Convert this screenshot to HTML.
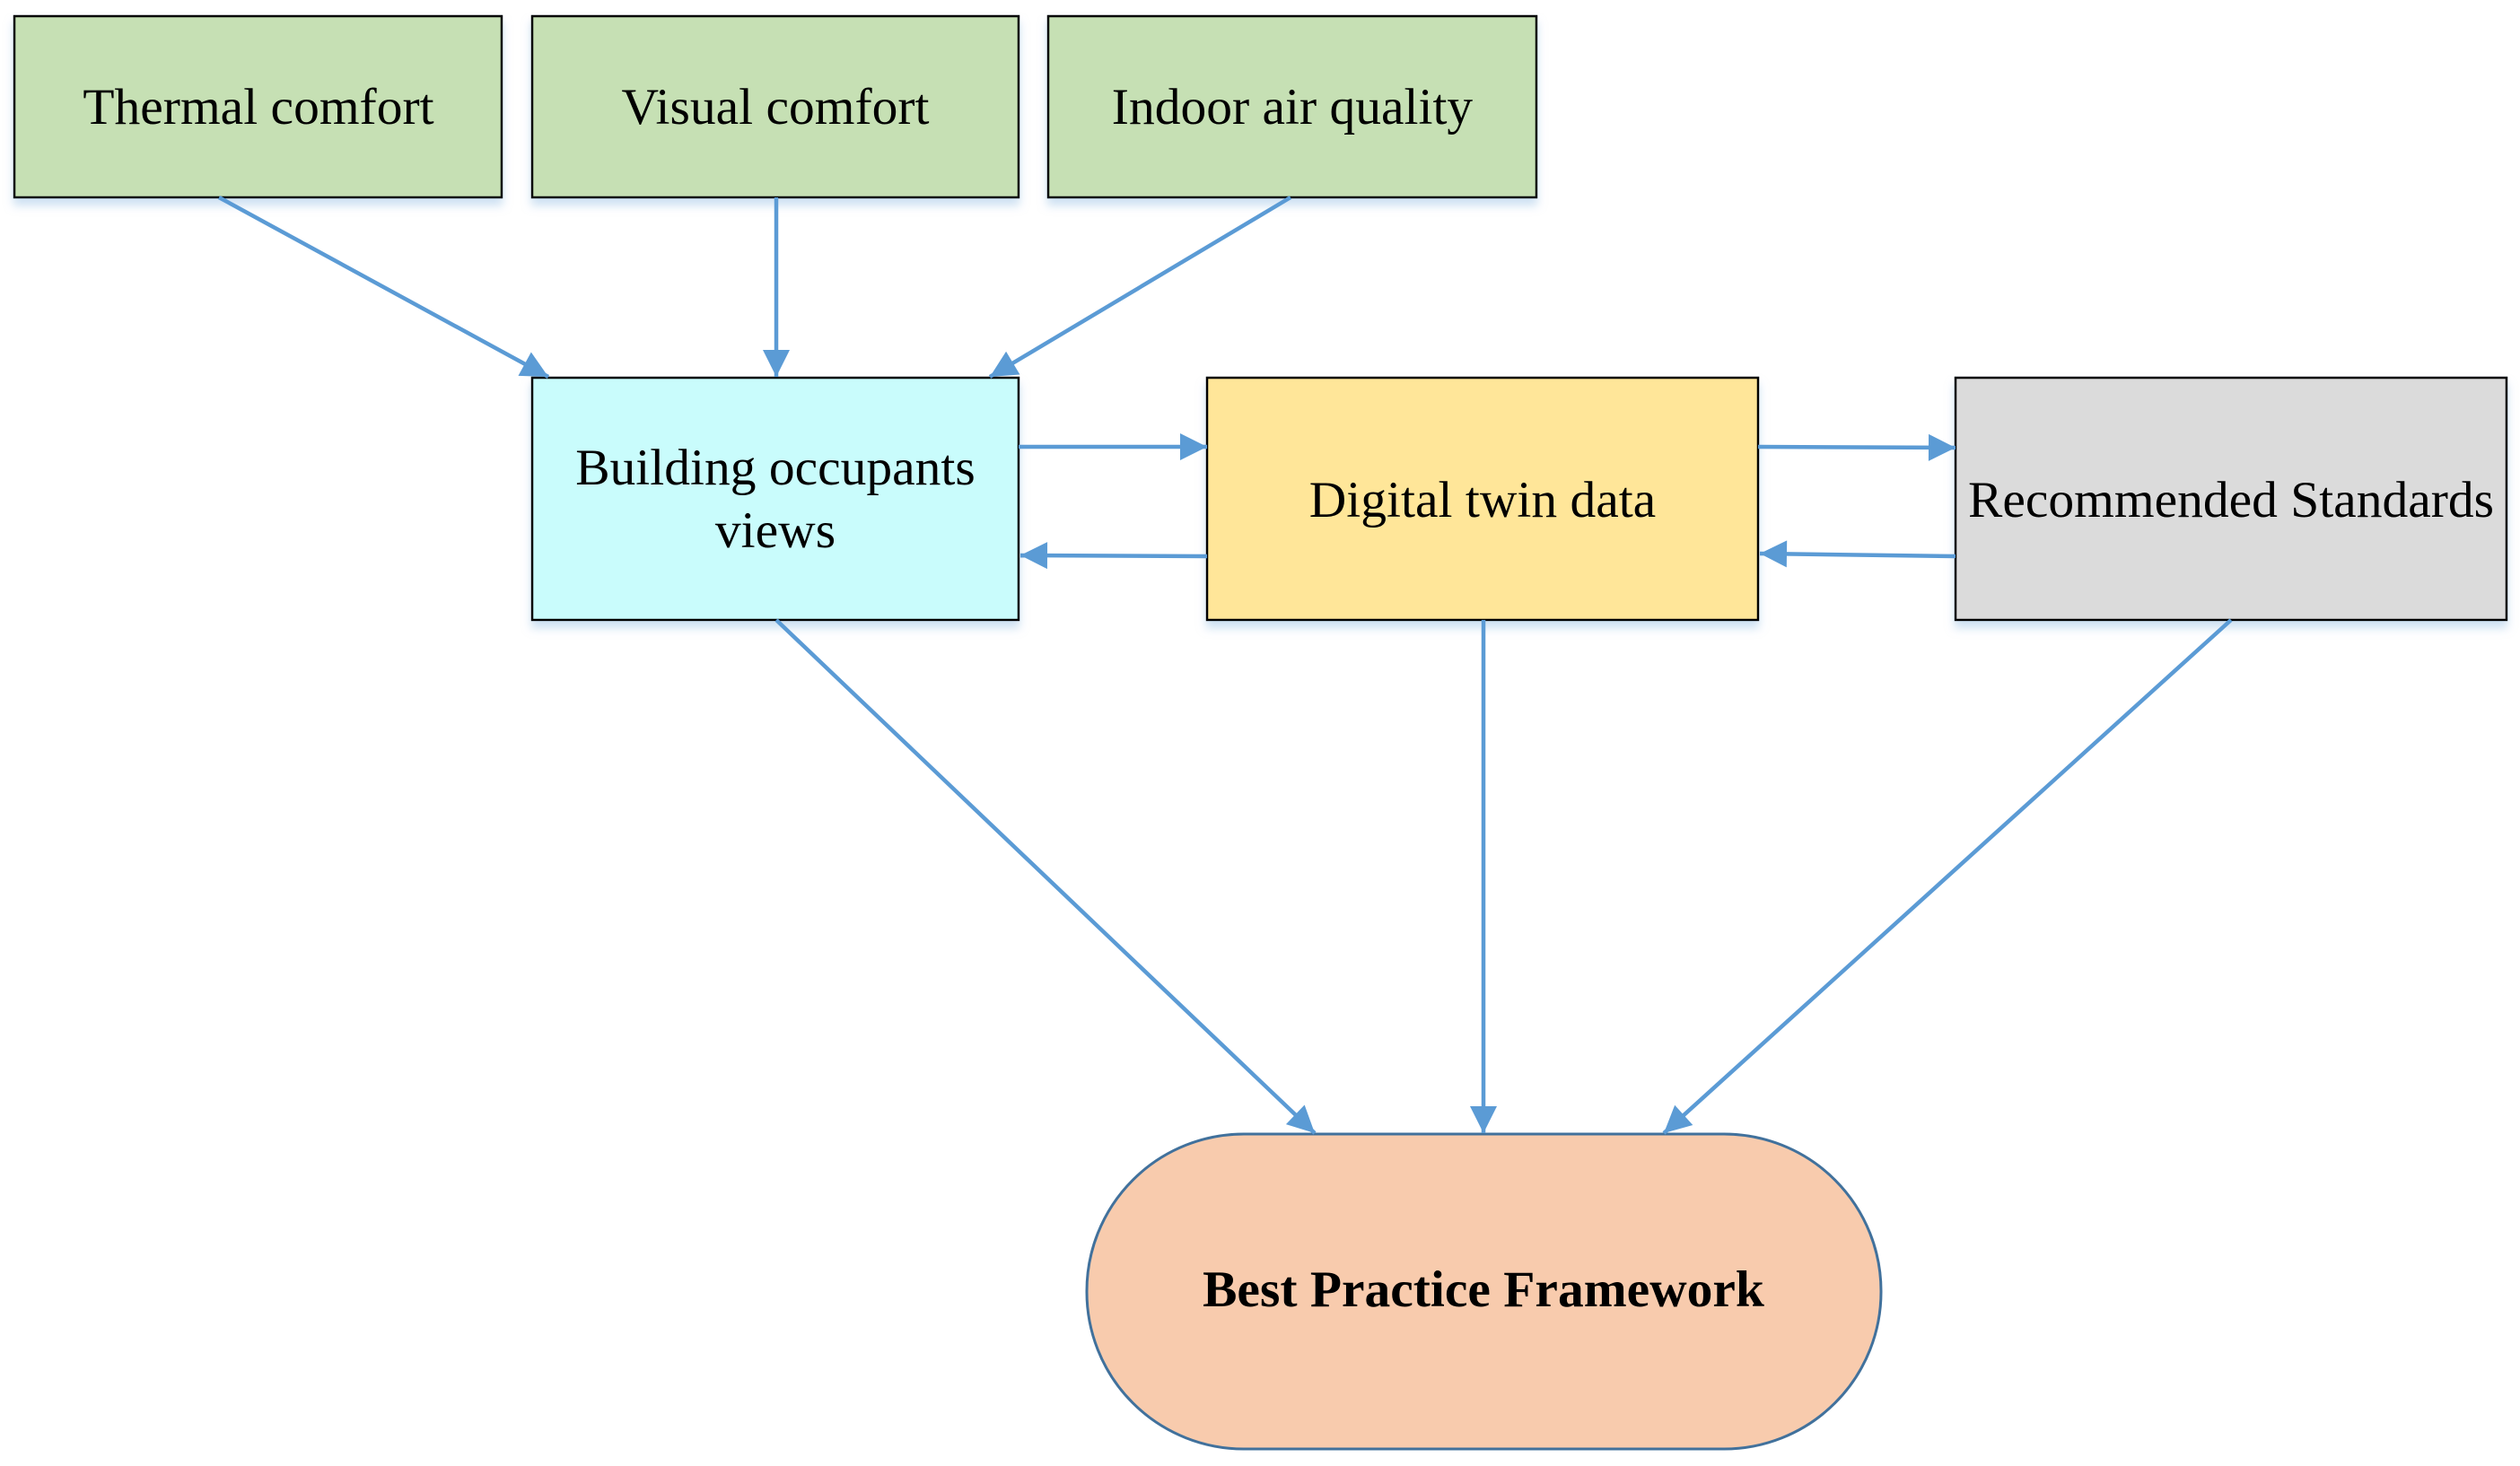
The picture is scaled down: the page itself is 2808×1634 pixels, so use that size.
<!DOCTYPE html>
<html><head><meta charset="utf-8"><style>
html,body{margin:0;padding:0;background:#fff;}
svg{display:block;}
text{font-family:"Liberation Serif",serif;font-size:57.5px;fill:#000;}
</style></head><body>
<svg width="2808" height="1634" viewBox="0 0 2808 1634" xmlns="http://www.w3.org/2000/svg">
<defs>
<marker id="ah" viewBox="0 0 10 10" refX="10" refY="5" markerWidth="32" markerHeight="30" markerUnits="userSpaceOnUse" orient="auto"><path d="M0,0 L10,5 L0,10 z" fill="#5b9bd5"/></marker>
<filter id="sh" x="-5%" y="-5%" width="110%" height="120%"><feDropShadow dx="0" dy="8" stdDeviation="5" flood-color="#9dc3e6" flood-opacity="0.5"/></filter>
</defs>
<g stroke="#000" stroke-width="2.5" filter="url(#sh)">
<rect x="16" y="18" width="543" height="202" fill="#c6e0b4"/>
<rect x="593" y="18" width="542" height="202" fill="#c6e0b4"/>
<rect x="1168" y="18" width="544" height="202" fill="#c6e0b4"/>
<rect x="593" y="421" width="542" height="270" fill="#c9fcfc"/>
<rect x="1345" y="421" width="614" height="270" fill="#ffe699"/>
<rect x="2179" y="421" width="614" height="270" fill="#dbdbdb"/>
</g>
<rect x="1211" y="1264" width="885" height="351" rx="175" ry="175" fill="#f8cbad" stroke="#41719c" stroke-width="3"/>
<g stroke="#5b9bd5" stroke-width="4.5" fill="none" marker-end="url(#ah)">
<line x1="244" y1="220" x2="611" y2="420"/>
<line x1="865" y1="220" x2="865" y2="420"/>
<line x1="1438" y1="220" x2="1103" y2="420"/>
<line x1="1135" y1="498" x2="1345" y2="498"/>
<line x1="1345" y1="620" x2="1137" y2="619"/>
<line x1="1959" y1="498" x2="2179" y2="499"/>
<line x1="2179" y1="620" x2="1961" y2="617"/>
<line x1="865" y1="691" x2="1465" y2="1263"/>
<line x1="1653" y1="691" x2="1653" y2="1263"/>
<line x1="2486" y1="691" x2="1854" y2="1263"/>
</g>
<g text-anchor="middle">
<text x="288" y="138">Thermal comfort</text>
<text x="864" y="138">Visual comfort</text>
<text x="1440" y="138">Indoor air quality</text>
<text x="864" y="540">Building occupants</text>
<text x="864" y="610">views</text>
<text x="1652" y="576">Digital twin data</text>
<text x="2486" y="576">Recommended Standards</text>
<text x="1653" y="1456" font-weight="bold">Best Practice Framework</text>
</g>
</svg>
</body></html>
